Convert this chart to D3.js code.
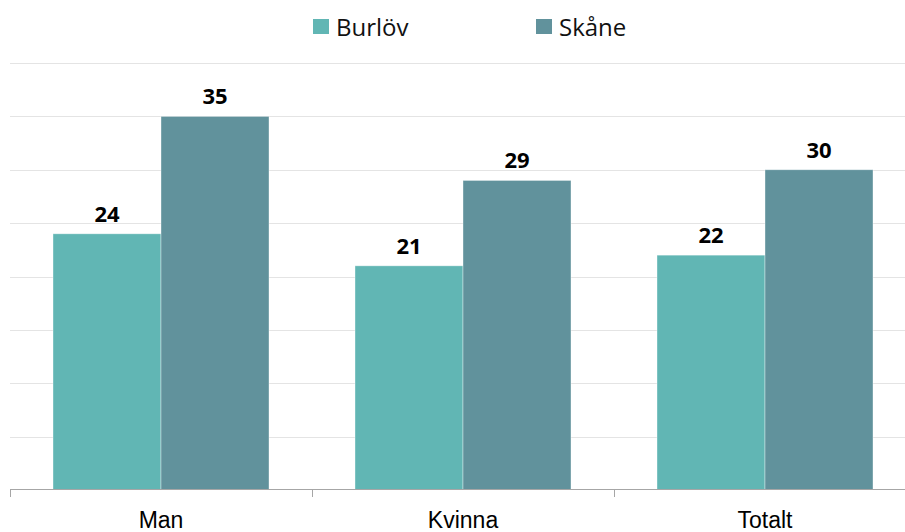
<!DOCTYPE html>
<meta charset="utf-8" />
<script src="https://d3js.org/d3.v7.min.js"></script>
<style>
  body { margin: 0; background: #fff; }
</style>
<svg id="chart" width="905" height="532"></svg>
<script>
  // data
  var categories = ["Man", "Kvinna", "Totalt"];
  var series = ["Burlöv", "Skåne"];
  var burlov = [24, 21, 22];
  var skane = [35, 29, 30];
  var yTicks = [0, 5, 10, 15, 20, 25, 30, 35, 40];

  var colors = { "Burlöv": "#61b6b4", "Skåne": "#61929c" };
  var values = { "Burlöv": burlov, "Skåne": skane };

  var svg = d3.select("#chart");

  var x = d3.scaleBand().domain(categories).range([10, 916]);
  var x1 = d3.scaleBand().domain(series).range([43, 259]);
  var y = d3.scaleLinear().domain([0, 40]).range([490, 63]);

  // gridlines
  svg.append("g")
    .selectAll("line")
    .data(yTicks.slice(1))
    .enter()
    .append("line")
    .attr("x1", 10)
    .attr("x2", 905)
    .attr("y1", function(d) { return Math.round(y(d)) + 0.5; })
    .attr("y2", function(d) { return Math.round(y(d)) + 0.5; })
    .attr("stroke", "#e4e4e4")
    .attr("stroke-width", 1);

  // bars
  var groups = svg.append("g")
    .selectAll("g")
    .data(categories)
    .enter()
    .append("g")
    .attr("transform", function(d) { return "translate(" + x(d) + ",0)"; });

  groups.selectAll("rect")
    .data(function(d, i) {
      return series.map(function(s) { return { s: s, v: values[s][i] }; });
    })
    .enter()
    .append("rect")
    .attr("x", function(d) { return x1(d.s); })
    .attr("width", x1.bandwidth())
    .attr("y", function(d) { return y(d.v); })
    .attr("height", function(d) { return y(0) - y(d.v); })
    .attr("fill", function(d) { return colors[d.s]; })
    .attr("stroke", "#ffffff")
    .attr("stroke-opacity", 0.5)
    .attr("stroke-width", 0.75);

  // value labels
  groups.selectAll("text")
    .data(function(d, i) {
      return series.map(function(s) { return { s: s, v: values[s][i] }; });
    })
    .enter()
    .append("text")
    .attr("x", function(d) { return x1(d.s) + x1.bandwidth() / 2; })
    .attr("y", function(d) { return y(d.v) - 12; })
    .attr("text-anchor", "middle")
    .style("font-family", "'Open Sans', sans-serif")
    .style("font-weight", "bold")
    .style("font-size", "22px")
    .attr("fill", "#000")
    .text(function(d) { return d.v; });

  // x axis
  var xAxis = svg.append("g")
    .attr("transform", "translate(0," + (y(0) - 0.5) + ")")
    .call(d3.axisBottom(x).tickSize(0));
  xAxis.select(".domain").attr("stroke", "#a6a6a6").attr("d", "M10,0H905");
  xAxis.selectAll("text")
    .attr("y", 38)
    .attr("dy", 0)
    .style("font-family", "'Liberation Sans', Arial, sans-serif")
    .style("font-size", "23px")
    .attr("fill", "#000");

  // category separator ticks
  svg.append("g")
    .selectAll("line")
    .data(categories)
    .enter()
    .append("line")
    .attr("x1", function(d) { return Math.round(x(d)) + 0.5; })
    .attr("x2", function(d) { return Math.round(x(d)) + 0.5; })
    .attr("y1", y(0))
    .attr("y2", y(0) + 7)
    .attr("stroke", "#a6a6a6");

  // legend
  var legendX = [313, 536];
  var legend = svg.append("g")
    .selectAll("g")
    .data(series)
    .enter()
    .append("g")
    .attr("transform", function(d, i) { return "translate(" + legendX[i] + ",19)"; });
  legend.append("rect")
    .attr("width", 16)
    .attr("height", 15)
    .attr("fill", function(d) { return colors[d]; });
  legend.append("text")
    .attr("x", 23)
    .attr("y", 17)
    .style("font-family", "'Open Sans', sans-serif")
    .style("font-size", "24px")
    .attr("fill", "#111")
    .text(function(d) { return d; });
</script>
